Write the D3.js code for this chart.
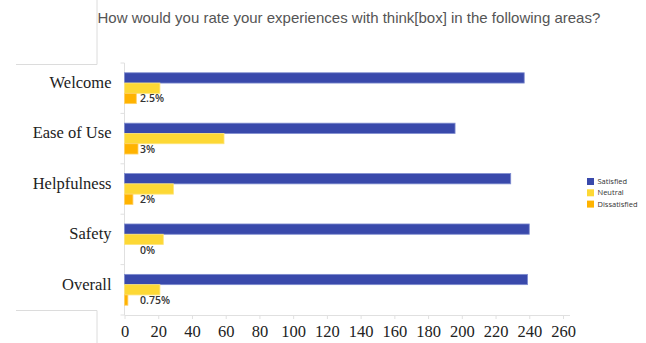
<!DOCTYPE html>
<html>
<head>
<meta charset="utf-8">
<script src="https://cdn.jsdelivr.net/npm/d3@7"></script>
<style>
  body { margin: 0; background: #fff; }
</style>
</head>
<body>
<div id="container"></div>
<script>
/* CONSTANTS AND GLOBALS */
const width = 646;
const height = 343;

const title = "How would you rate your experiences with think[box] in the following areas?";

// DATA ===================================
const categories = ["Welcome", "Ease of Use", "Helpfulness", "Safety", "Overall"];
const seriesNames = ["Satisfied", "Neutral", "Dissatisfied"];
const satisfied = [237, 196, 229, 240, 239];
const neutral = [21, 59, 29, 23, 21];
const dissatisfied = [7, 8, 5, 0, 2];
const dissatisfiedLabels = ["2.5%", "3%", "2%", "0%", "0.75%"];
const xTicks = [0, 20, 40, 60, 80, 100, 120, 140, 160, 180, 200, 220, 240, 260];

const colors = { Satisfied: "#3949ab", Neutral: "#fdd835", Dissatisfied: "#ffb300" };
const strokes = { Satisfied: "#7f8ccf", Neutral: "#fde47a", Dissatisfied: "#ffd066" };

const rows = categories.map((c, i) => ({
    category: c,
    values: [
        { key: "Satisfied", value: satisfied[i] },
        { key: "Neutral", value: neutral[i] },
        { key: "Dissatisfied", value: dissatisfied[i] }
    ],
    label: dissatisfiedLabels[i]
}));

// SCALES ==================================
const x = d3.scaleLinear().domain([0, 260]).range([124.5, 563]);
const y = d3.scaleBand().domain(categories).range([63, 315]).padding(0);
const ySub = d3.scaleBand().domain(seriesNames).range([0, y.bandwidth()])
    .paddingInner(0).paddingOuter(0.95);

// SVG =====================================
const svg = d3.select("#container")
    .append("svg")
    .attr("width", width)
    .attr("height", height)
    .style("display", "block");

// page decoration lines
const deco = svg.append("g").attr("stroke", "#dcdcdc").attr("fill", "none");
deco.append("path").attr("d", "M97,0V64.5H16");
deco.append("path").attr("d", "M16,310.5H97V343");

// title
svg.append("text")
    .attr("x", 97.5)
    .attr("y", 23)
    .attr("font-family", "Liberation Sans, Arial, sans-serif")
    .attr("font-size", 15)
    .attr("fill", "#555")
    .text(title);

// AXES ====================================
const xAxis = svg.append("g")
    .attr("transform", "translate(0,315)")
    .call(d3.axisBottom(x).tickValues(xTicks).tickSize(4).tickPadding(6).tickSizeOuter(0));
xAxis.select(".domain").attr("stroke", "#e0e0e0").attr("d", "M124.5,0.5H570");
xAxis.selectAll(".tick line").attr("stroke", "#e0e0e0");
xAxis.selectAll(".tick text")
    .attr("font-family", "Liberation Serif, Times New Roman, serif")
    .attr("font-size", 16.5)
    .attr("fill", "#222");

const yAxis = svg.append("g")
    .attr("transform", "translate(124.5,0)");
yAxis.append("line")
    .attr("y1", y.range()[0]).attr("y2", y.range()[1])
    .attr("stroke", "#e0e0e0");
yAxis.selectAll(".sep")
    .data(categories.concat(["end"]))
    .join("line")
    .attr("class", "sep")
    .attr("x1", -4).attr("x2", 0)
    .attr("y1", (d, i) => i < categories.length ? y(d) : y.range()[1])
    .attr("y2", (d, i) => i < categories.length ? y(d) : y.range()[1])
    .attr("stroke", "#e0e0e0");
yAxis.selectAll(".cat-label")
    .data(categories)
    .join("text")
    .attr("class", "cat-label")
    .attr("x", -13)
    .attr("y", d => y(d) + y.bandwidth() / 2 - 6)
    .attr("dy", "0.35em")
    .attr("text-anchor", "end")
    .attr("font-family", "Liberation Serif, Times New Roman, serif")
    .attr("font-size", 16.5)
    .attr("fill", "#222")
    .text(d => d);

// BARS ====================================
const groups = svg.selectAll(".cat")
    .data(rows)
    .join("g")
    .attr("class", "cat")
    .attr("transform", d => `translate(0,${y(d.category)})`);

groups.selectAll("rect")
    .data(d => d.values.filter(v => v.value > 0))
    .join("rect")
    .attr("x", x(0))
    .attr("y", d => ySub(d.key))
    .attr("width", d => x(d.value) - x(0))
    .attr("height", ySub.bandwidth())
    .attr("fill", d => colors[d.key])
    .attr("stroke", d => strokes[d.key])
    .attr("stroke-width", 0.8);

groups.append("text")
    .attr("x", x(0) + 15.5)
    .attr("y", ySub("Dissatisfied") + ySub.bandwidth() / 2)
    .attr("dy", "0.38em")
    .attr("font-family", "Open Sans, sans-serif")
    .attr("font-weight", 600)
    .attr("font-size", 10.5)
    .attr("fill", "#333")
    .text(d => d.label);

// LEGEND ==================================
const legend = svg.append("g").attr("transform", "translate(587,178)");
const li = legend.selectAll("g")
    .data(seriesNames)
    .join("g")
    .attr("transform", (d, i) => `translate(0,${i * 11.3})`);
li.append("rect")
    .attr("width", 7).attr("height", 7)
    .attr("fill", d => colors[d]);
li.append("text")
    .attr("x", 10.5)
    .attr("y", 3.5)
    .attr("dy", "0.35em")
    .attr("font-family", "Open Sans, sans-serif")
    .attr("font-size", 7.5)
    .attr("fill", "#333")
    .text(d => d);
</script>
</body>
</html>
